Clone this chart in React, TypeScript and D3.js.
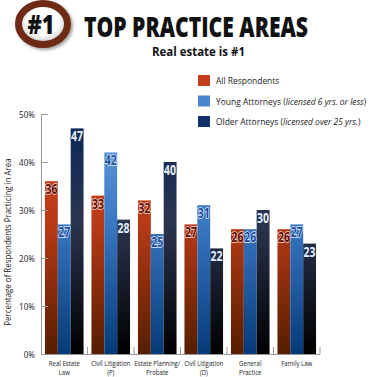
import React from "react";
import * as d3 from "d3";

const categories = [
  ["Real Estate", "Law"],
  ["Civil Litigation", "(P)"],
  ["Estate Planning/", "Probate"],
  ["Civil Litigation", "(D)"],
  ["General", "Practice"],
  ["Family Law"],
];
const allRespondents = [36, 33, 32, 27, 26, 26];
const youngAttorneys = [27, 42, 25, 31, 26, 27];
const olderAttorneys = [47, 28, 40, 22, 30, 23];
const yTicks = [0, 10, 20, 30, 40, 50];
const seriesNames = ["All Respondents", "Young Attorneys", "Older Attorneys"];
const seriesNotes = ["", "licensed 6 yrs. or less", "licensed over 25 yrs."];

const COND = "'Open Sans', 'Noto Sans', sans-serif";
const HUM = "'Open Sans', 'Noto Sans', sans-serif";

function SText(props: { x: number; y: number; sx: number; rotate?: number; children: React.ReactNode; [k: string]: any }) {
  const { x, y, sx, rotate, children, ...rest } = props;
  return (
    <g transform={`translate(${x},${y})${rotate ? ` rotate(${rotate})` : ""} scale(${sx},1)`}>
      <text x={0} y={0} {...rest}>{children}</text>
    </g>
  );
}

export default function App() {
  const W = 379, H = 377;
  const left = 41, right = 320, top = 114, bottom = 354;
  const y = d3.scaleLinear().domain([0, 50]).range([bottom, top]);
  const x0 = d3.scaleBand<number>().domain(d3.range(categories.length)).range([left, right]).paddingInner(0.17).paddingOuter(0.085);
  const x1 = d3.scaleBand<number>().domain([0, 1, 2]).range([0, x0.bandwidth()]);
  const series = [allRespondents, youngAttorneys, olderAttorneys];
  const grads = [
    { id: "gRed", stops: ["#d44820", "#b93a17", "#561e00"], fill: "#c53d1c" },
    { id: "gLight", stops: ["#6aa1e0", "#3a78c4", "#053a78"], fill: "#4a86cf" },
    { id: "gDark", stops: ["#08255a", "#2b3550", "#000000"], fill: "#12306a" },
  ];
  const labelColors = ["#6a0c00", "#1d4fa3", "#e6eefa"];
  const labelStroke = ["#f0d8d0", "#dfe9f7", "#1b2e55"];
  const boundaries = d3.range(categories.length + 1).map((i) => left + (right - left) * i / categories.length);

  return (
    <div style={{ position: "absolute", left: 0, top: 0 }}>
      <svg width={W} height={H} style={{ display: "block", background: "#fff" }}>
        <defs>
          {grads.map((g) => (
            <linearGradient key={g.id} id={g.id} gradientUnits="userSpaceOnUse" x1="0" y1={top} x2="0" y2={bottom}>
              <stop offset="0" stopColor={g.stops[0]} />
              <stop offset="0.45" stopColor={g.stops[1]} />
              <stop offset="1" stopColor={g.stops[2]} />
            </linearGradient>
          ))}
          <radialGradient id="badgeIn" cx="0.5" cy="0.45" r="0.6">
            <stop offset="0.55" stopColor="#ffffff" />
            <stop offset="1" stopColor="#a8a8a8" />
          </radialGradient>
          <filter id="shadow" x="-30%" y="-30%" width="160%" height="160%">
            <feDropShadow dx="2" dy="2" stdDeviation="1.5" floodColor="#000" floodOpacity="0.35" />
          </filter>
        </defs>

        {/* badge */}
        <ellipse cx={43} cy={24} rx={24.5} ry={20.5} fill="url(#badgeIn)" stroke="#6e2c12" strokeWidth={7} filter="url(#shadow)" />
        <SText x={41} y={34} sx={0.8} textAnchor="middle" fontFamily={COND} fontWeight="800" fontSize={27} fill="#111">#1</SText>

        {/* title */}
        <text x={84} y={37} fontFamily={COND} fontWeight="800" fontSize={28} fill="#111" textLength={224} lengthAdjust="spacingAndGlyphs">TOP PRACTICE AREAS</text>
        <text x={152} y={56} fontFamily={HUM} fontWeight="bold" fontSize={12.5} fill="#111" textLength={93} lengthAdjust="spacingAndGlyphs">Real estate is #1</text>

        {/* legend */}
        {seriesNames.map((n, i) => (
          <g key={n} transform={`translate(198, ${75 + i * 20.5})`}>
            <rect width={12} height={11} fill={grads[i].fill} />
            <SText x={18} y={9} sx={0.89} fontFamily={HUM} fontSize={9.5} fill="#222">
              {n}
              {seriesNotes[i] ? <tspan> (<tspan fontStyle="italic">{seriesNotes[i]}</tspan>)</tspan> : null}
            </SText>
          </g>
        ))}

        {/* bars */}
        {categories.map((c, gi) => (
          <g key={gi} transform={`translate(${x0(gi)},0)`}>
            {series.map((s, si) => (
              <rect key={si} x={x1(si)} y={y(s[gi])} width={x1.bandwidth()} height={bottom - y(s[gi])} fill={`url(#${grads[si].id})`} />
            ))}
            {series.map((s, si) => (
              <text key={"t" + si} x={(x1(si) as number) + x1.bandwidth() / 2} y={y(s[gi]) + 13} textAnchor="middle"
                fontFamily={COND} fontWeight="bold" fontSize={15} fill={labelColors[si]}
                stroke={labelStroke[si]} strokeWidth={1.6} paintOrder="stroke" textLength={12} lengthAdjust="spacingAndGlyphs">{s[gi]}</text>
            ))}
            {c.map((line, li) => (
              <SText key={"c" + li} x={x0.bandwidth() / 2} y={366 + li * 9} sx={0.78} textAnchor="middle" fontFamily={HUM} fontSize={7.8} fill="#222">{line}</SText>
            ))}
          </g>
        ))}

        {/* axes */}
        <line x1={left + 0.5} x2={left + 0.5} y1={top} y2={bottom} stroke="#999" strokeWidth={1} />
        <line x1={left} x2={right} y1={bottom + 0.5} y2={bottom + 0.5} stroke="#999" strokeWidth={1} />
        {yTicks.map((t) => (
          <g key={t}>
            <line x1={left} x2={left + 7} y1={y(t) + 0.5} y2={y(t) + 0.5} stroke="#999" />
            <SText x={35} y={y(t) + 3.5} sx={0.85} textAnchor="end" fontFamily={HUM} fontSize={9.5} fill="#222">{t}%</SText>
          </g>
        ))}
        {boundaries.slice(1).map((b, i) => (
          <line key={i} x1={b} x2={b} y1={bottom - 7} y2={bottom} stroke="#999" />
        ))}
        <SText x={11} y={242} rotate={-90} sx={0.88} textAnchor="middle" fontFamily={HUM} fontSize={9} fill="#222">Percentage of Respondents Practicing in Area</SText>
      </svg>
    </div>
  );
}
